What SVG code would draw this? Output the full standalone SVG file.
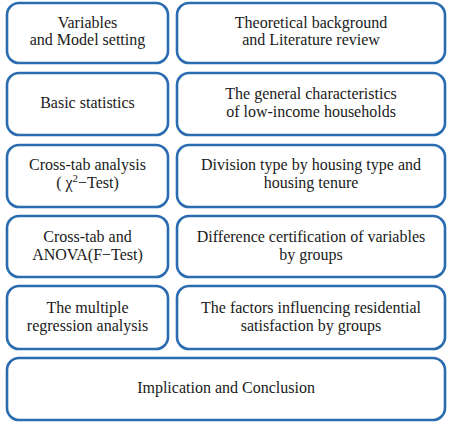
<svg xmlns="http://www.w3.org/2000/svg" width="450" height="424" viewBox="0 0 450 424">
<style>
.b{fill:#fff;stroke:#2b6cb0;stroke-width:2.6}
.t{font-family:"Liberation Serif","Times New Roman",serif;font-size:16px;fill:#1a1a1a;text-anchor:middle}
</style>
<rect width="450" height="424" fill="#fff"/>
<g id="n1"><rect class="b" x="7" y="3" width="161" height="60" rx="12"/><text class="t" x="87.5" y="28">Variables</text><text class="t" x="87.5" y="45">and Model setting</text></g>
<g id="n2"><rect class="b" x="177" y="3" width="268" height="60" rx="12"/><text class="t" x="311" y="28">Theoretical background</text><text class="t" x="311" y="45">and Literature review</text></g>
<g id="n3"><rect class="b" x="7" y="73" width="161" height="62" rx="12"/><text class="t" x="87.5" y="108">Basic statistics</text></g>
<g id="n4"><rect class="b" x="177" y="73" width="268" height="62" rx="12"/><text class="t" x="311" y="99">The general characteristics</text><text class="t" x="311" y="117">of low-income households</text></g>
<g id="n5"><rect class="b" x="7" y="145" width="161" height="62" rx="12"/><text class="t" x="87.5" y="170">Cross-tab analysis</text><text class="t" x="87.5" y="188">( χ<tspan dy="-6" font-size="11">2</tspan><tspan dy="6">−Test)</tspan></text></g>
<g id="n6"><rect class="b" x="177" y="145" width="268" height="62" rx="12"/><text class="t" x="311" y="170">Division type by housing type and</text><text class="t" x="311" y="188">housing tenure</text></g>
<g id="n7"><rect class="b" x="7" y="216" width="161" height="61" rx="12"/><text class="t" x="87.5" y="242">Cross-tab and</text><text class="t" x="87.5" y="260">ANOVA(F−Test)</text></g>
<g id="n8"><rect class="b" x="177" y="216" width="268" height="61" rx="12"/><text class="t" x="311" y="242">Difference certification of variables</text><text class="t" x="311" y="260">by groups</text></g>
<g id="n9"><rect class="b" x="7" y="286" width="161" height="63" rx="12"/><text class="t" x="87.5" y="313">The multiple</text><text class="t" x="87.5" y="331">regression analysis</text></g>
<g id="n10"><rect class="b" x="177" y="286" width="268" height="63" rx="12"/><text class="t" x="311" y="313">The factors influencing residential</text><text class="t" x="311" y="331">satisfaction by groups</text></g>
<g id="n11"><rect class="b" x="7" y="358" width="438" height="62" rx="12"/><text class="t" x="226" y="393">Implication and Conclusion</text></g>
<g id="connectors"/>
</svg>
